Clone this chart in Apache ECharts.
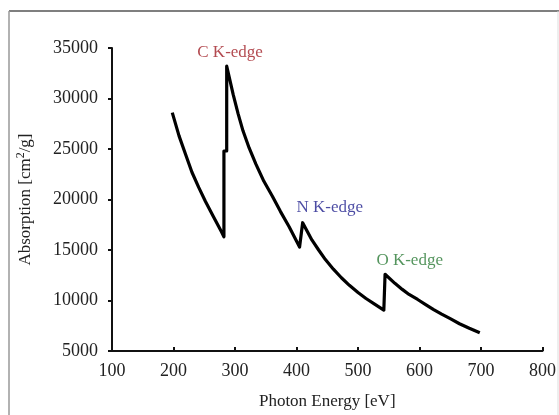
<!DOCTYPE html>
<html>
<head>
<meta charset="utf-8">
<script src="https://cdn.jsdelivr.net/npm/echarts@6/dist/echarts.min.js"></script>
<style>
  html, body { margin: 0; padding: 0; background: #fff; }
  #chart { width: 559px; height: 415px; }
</style>
</head>
<body>
<div id="chart"></div>
<script>
(function () {
    'use strict';

    // Photon energy [eV] and absorption [cm2/g]
    var energy = [
        198, 209, 220, 230, 241, 252, 265, 278, 282, 282, 286.5, 286.5,
        297, 305, 313, 323, 334, 347, 361, 374, 388, 405, 410,
        425, 436, 447, 460, 473, 486, 500, 513, 527, 542, 544,
        560, 572, 583, 597, 610, 623, 636, 650, 665, 681, 698
    ];
    var absorption = [
        28600, 26300, 24400, 22700, 21200, 19800, 18300, 16800, 16300, 24800, 24800, 33200,
        30400, 28500, 26800, 25100, 23500, 21800, 20300, 18800, 17300, 15300, 17700,
        16000, 15000, 14050, 13100, 12250, 11500, 10800, 10200, 9650, 9050, 12600,
        11700, 11100, 10600, 10100, 9600, 9100, 8650, 8200, 7700, 7250, 6800
    ];

    var xTicks = [100, 200, 300, 400, 500, 600, 700, 800];
    var yTicks = [5000, 10000, 15000, 20000, 25000, 30000, 35000];

    // Edge annotations: [energy, absorption] anchor for the label centre
    var edgeNames = ['C K-edge', 'N K-edge', 'O K-edge'];
    var edgeAnchors = [[292, 34600], [454, 19200], [584, 14000]];
    var edgeColors = ['#a01e26', '#1e1e8c', '#2a7a36'];

    var FONT = '"Liberation Serif", "DejaVu Serif", serif';

    var chart = echarts.init(document.getElementById('chart'));

    chart.setOption({
        animation: false,
        backgroundColor: '#fff',
        grid: { left: 112, right: 10, top: 48, bottom: 61 },
        graphic: [
            { type: 'line', shape: { x1: 9, y1: 11, x2: 559, y2: 11 },
              style: { stroke: '#555', lineWidth: 1.5 } },
            { type: 'line', shape: { x1: 9, y1: 11, x2: 9, y2: 415 },
              style: { stroke: '#999', lineWidth: 1.5 } },
            { type: 'line', shape: { x1: 558, y1: 11, x2: 558, y2: 415 },
              style: { stroke: '#ddd', lineWidth: 1 } }
        ],
        xAxis: {
            type: 'value',
            min: xTicks[0],
            max: xTicks[xTicks.length - 1],
            interval: 100,
            name: 'Photon Energy [eV]',
            nameLocation: 'middle',
            nameGap: 42,
            nameTextStyle: { fontFamily: FONT, fontSize: 17, color: '#222' },
            axisLine: { lineStyle: { color: '#111', width: 2 } },
            axisTick: { inside: true, length: 4, lineStyle: { color: '#111', width: 2 } },
            axisLabel: { fontFamily: FONT, fontSize: 18, color: '#222', margin: 11,
                         formatter: function (v) { return String(v); } },
            splitLine: { show: false }
        },
        yAxis: {
            type: 'value',
            min: yTicks[0],
            max: yTicks[yTicks.length - 1],
            interval: 5000,
            name: '{t|Absorption [cm}{s|2}{t|/g]}',
            nameLocation: 'middle',
            nameGap: 76,
            nameRotate: 90,
            nameTextStyle: {
                rich: {
                    t: { fontFamily: FONT, fontSize: 17, color: '#222' },
                    s: { fontFamily: FONT, fontSize: 12, color: '#222', verticalAlign: 'top', padding: [0, 0, 9, 0] }
                }
            },
            axisLine: { show: true, lineStyle: { color: '#111', width: 2 } },
            axisTick: { show: true, length: 4, lineStyle: { color: '#111', width: 2 } },
            axisLabel: { fontFamily: FONT, fontSize: 18, color: '#222', margin: 14,
                         formatter: function (v) { return String(v); } },
            splitLine: { show: false }
        },
        series: [{
            type: 'line',
            data: energy.map(function (e, i) { return [e, absorption[i]]; }),
            showSymbol: false,
            lineStyle: { color: '#000', width: 3.2, join: 'round' },
            itemStyle: { color: '#000' }
        }, {
            type: 'scatter',
            symbolSize: 1,
            itemStyle: { color: 'rgba(0,0,0,0)' },
            data: edgeAnchors.map(function (p, i) {
                return {
                    value: p,
                    label: {
                        show: true,
                        formatter: edgeNames[i],
                        position: 'inside',
                        color: edgeColors[i],
                        fontFamily: FONT,
                        fontSize: 17
                    }
                };
            }),
            silent: true
        }]
    });
})();
</script>
</body>
</html>
